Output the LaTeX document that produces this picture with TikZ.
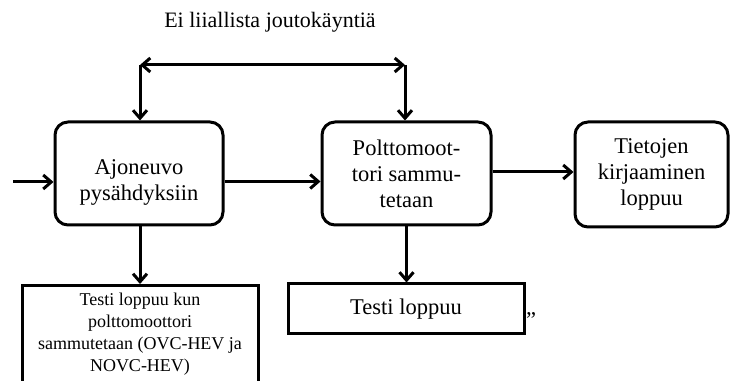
\documentclass[tikz,border=0pt]{standalone}
\usepackage{fontspec}
\setmainfont{Liberation Serif}
\usetikzlibrary{arrows.meta}
\begin{document}
\begin{tikzpicture}[x=1pt,y=1pt,line width=3pt,>={Straight Barb[length=8pt,width=14pt]},
  proc/.style={draw,rounded corners=13pt,minimum width=168pt,minimum height=103pt,
    align=center,inner sep=0pt,font=\fontsize{22.5}{26}\selectfont},
  endbox/.style={draw,align=center,inner sep=0pt,minimum width=236pt}]
\useasboundingbox (0,0) rectangle (733,380);
\node (note) at (270,358) [font=\fontsize{22}{26}\selectfont] {Ei liiallista joutokäyntiä};
\node[proc] (stop) at (139,206.5)
  {\raisebox{-9pt}[\height][\depth]{\begin{tabular}{@{}c@{}}Ajoneuvo\\pysähdyksiin\end{tabular}}};
\node[proc,minimum width=169pt] (engine) at (406.5,206.5) {Polttomoot-\\tori sammu-\\tetaan};
\node[proc,minimum width=153pt,minimum height=105pt] (log) at (651.5,205.5) {Tietojen\\kirjaaminen\\loppuu};
\node[endbox,anchor=north,minimum height=110pt,font=\fontsize{18}{22}\selectfont] (endhev) at (140,96)
  {\raisebox{6.5pt}[\height][\depth]{\begin{tabular}{@{}c@{}}Testi loppuu kun\\polttomoottori\\
   sammutetaan (OVC-HEV ja\\NOVC-HEV)\end{tabular}}};
\node[endbox,minimum height=50pt,font=\fontsize{22.5}{26}\selectfont] (endtest) at (406,71) {Testi loppuu};
\node (mark) at (531,59.5) [font=\fontsize{22.5}{26}\selectfont] {”};
% arrows
\coordinate (in) at (13,198);
\coordinate (idleL) at (140,315);
\coordinate (idleR) at (405,315);
\draw[<->] (idleL) -- (idleR);
\draw[->] (idleL) -- (idleL |- stop.north);
\draw[->] (idleR) -- (idleR |- engine.north);
\draw[->] (in) -- (in -| stop.west);
\draw[->] ([yshift=-8pt]stop.east) -- ([yshift=-8pt]stop.east -| engine.west);
\draw[->] ([yshift=1.5pt]engine.east) -- ([yshift=1.5pt]engine.east -| log.west);
\draw[->] (idleL |- stop.south) -- (idleL |- endhev.north);
\draw[->] (engine.south) -- (engine.south |- endtest.north);
\end{tikzpicture}
\end{document}
